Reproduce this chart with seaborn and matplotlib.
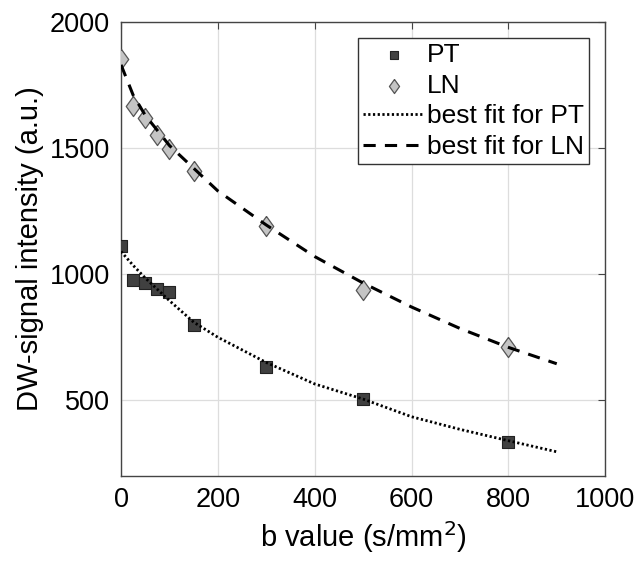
import matplotlib
matplotlib.use("Agg")
import matplotlib.pyplot as plt
import numpy as np
import pandas as pd
import seaborn as sns

b_values = [0, 25, 50, 75, 100, 150, 300, 500, 800]
pt_signal = [1110, 976, 965, 942, 929, 800, 634, 505, 334]
ln_signal = [1853, 1667, 1618, 1552, 1496, 1410, 1190, 937, 713]

# fitted curves (sampled off the figure)
fit_b = [0, 25, 50, 100, 150, 200, 300, 400, 500, 600, 700, 800, 900]
pt_fit = [1090, 1035, 985, 895, 810, 750, 650, 565, 505, 435, 385, 340, 296]
ln_fit = [1830, 1710, 1630, 1510, 1420, 1330, 1195, 1070, 965, 870, 785, 710, 645]

sns.set_style("white")
plt.rcParams["font.family"] = ["Liberation Sans", "DejaVu Sans"]
plt.rcParams["text.color"] = "black"
plt.rcParams["axes.labelcolor"] = "black"

pts = pd.DataFrame({"b": b_values, "PT": pt_signal, "LN": ln_signal})
fits = pd.DataFrame({"b": fit_b, "PT": pt_fit, "LN": ln_fit})

# MATLAB-like diamond: a bit taller than wide
diamond = [(0, 1), (0.72, 0), (0, -1), (-0.72, 0), (0, 1)]

fig = plt.figure(figsize=(6.37, 5.62), dpi=100)
ax = fig.add_axes([0.190, 0.153, 0.760, 0.808])

ax.grid(True, color="#dddddd", lw=0.9)
ax.set_axisbelow(True)

sns.scatterplot(data=pts, x="b", y="PT", ax=ax, marker="s", s=75,
                color="#404040", edgecolor="#222222", linewidth=0.8,
                label="PT", zorder=3)
sns.scatterplot(data=pts, x="b", y="LN", ax=ax, marker=diamond, s=210,
                color="#c4c4c4", edgecolor="#555555", linewidth=0.9,
                label="LN", zorder=3)
sns.lineplot(data=fits, x="b", y="PT", ax=ax, color="black", lw=2,
             linestyle=(0, (0.8, 0.9)), label="best fit for PT", zorder=4)
sns.lineplot(data=fits, x="b", y="LN", ax=ax, color="black", lw=2.2,
             linestyle=(0, (4, 3)), label="best fit for LN", zorder=4)

ax.set_xlim(0, 1000)
ax.set_ylim(200, 2000)
ax.set_xticks([0, 200, 400, 600, 800, 1000])
ax.set_yticks([500, 1000, 1500, 2000])
ax.tick_params(direction="in", length=5, labelsize=19.5, pad=8,
               top=True, right=True, color="#444444", labelcolor="black")
for s in ax.spines.values():
    s.set_color("#444444")
    s.set_linewidth(1.0)

ax.set_xlabel("b value (s/mm$^2$)", fontsize=21)
ax.set_ylabel("DW-signal intensity (a.u.)", fontsize=21)

leg = ax.legend(loc="upper right", fontsize=19, frameon=True, fancybox=False,
                edgecolor="#333333", framealpha=1, handlelength=2.3,
                handletextpad=0.12, borderpad=0.2, labelspacing=0.25,
                borderaxespad=0.6, markerscale=0.7)
leg.get_frame().set_linewidth(1.0)

fig.savefig("out.png", dpi=100)
